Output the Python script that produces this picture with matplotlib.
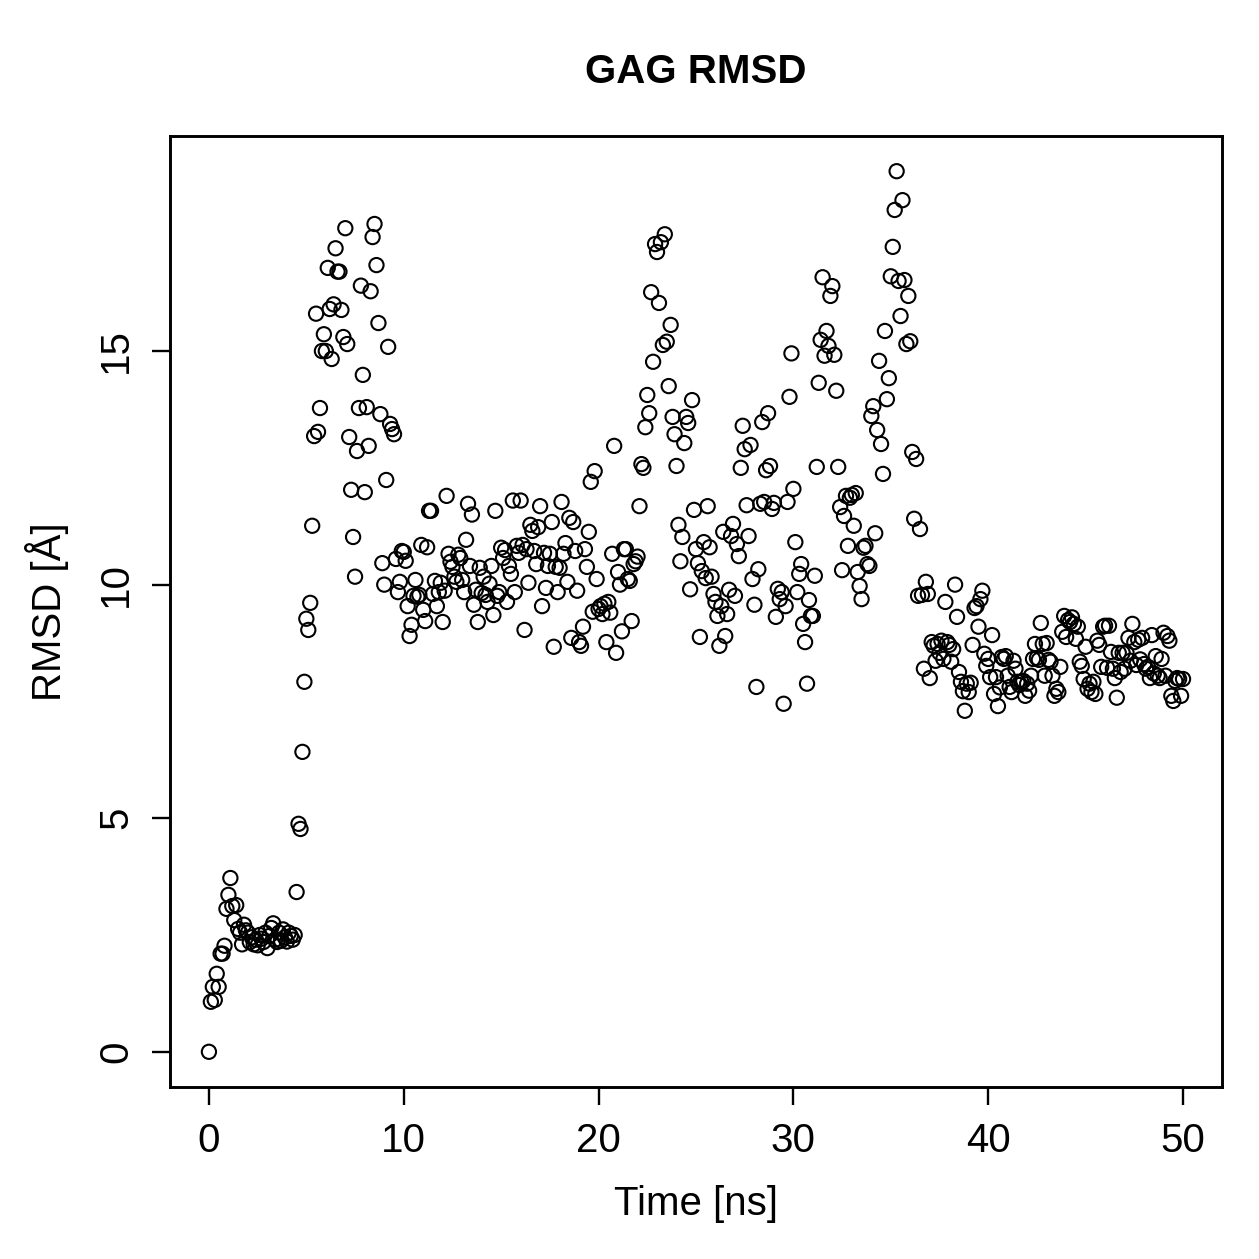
import numpy as np
import matplotlib
matplotlib.use('Agg')
import matplotlib.pyplot as plt

plt.rcParams['font.family'] = ['Liberation Sans', 'DejaVu Sans']

# RMSD per frame, one row per ns (10 frames / ns)
rmsd = [
    0.00, 1.07, 1.39, 1.11, 1.67, 1.39, 2.10, 2.10, 2.27, 3.06,
    3.36, 3.72, 3.12, 2.82, 3.14, 2.63, 2.55, 2.30, 2.72, 2.60,
    2.55, 2.35, 2.45, 2.30, 2.40, 2.28, 2.50, 2.42, 2.35, 2.55,
    2.22, 2.48, 2.65, 2.75, 2.40, 2.35, 2.55, 2.38, 2.62, 2.45,
    2.36, 2.55, 2.48, 2.40, 2.50, 3.42, 4.88, 4.77, 6.42, 7.92,
    9.27, 9.03, 9.61, 11.26, 13.18, 15.80, 13.27, 13.78, 15.00, 15.36,
    15.00, 16.78, 15.90, 14.83, 16.00, 17.20, 16.70, 16.70, 15.88, 15.30,
    17.63, 15.15, 13.16, 12.03, 11.02, 10.17, 12.86, 13.78, 16.40, 14.49,
    11.98, 13.80, 12.97, 16.28, 17.44, 17.72, 16.84, 15.60, 13.65, 10.46,
    10.00, 12.24, 15.09, 13.44, 13.33, 13.22, 10.55, 9.84, 10.06, 10.72,
    10.70, 10.51, 9.54, 8.90, 9.14, 9.76, 10.10, 9.74, 9.78, 10.85,
    9.46, 9.22, 10.80, 11.58, 11.58, 9.80, 10.08, 9.54, 9.84, 10.04,
    9.20, 9.87, 11.90, 10.66, 10.49, 10.38, 10.17, 10.06, 10.64, 10.57,
    10.10, 9.84, 10.96, 11.73, 10.40, 11.50, 9.57, 9.89, 9.20, 10.36,
    9.82, 10.17, 9.78, 9.63, 10.02, 10.40, 9.35, 11.58, 9.76, 9.84,
    10.79, 10.57, 10.74, 9.63, 10.40, 10.23, 11.80, 9.84, 10.83, 10.68,
    11.80, 10.85, 9.03, 10.76, 10.04, 11.28, 11.15, 10.72, 10.44, 11.23,
    11.68, 9.54, 10.68, 9.93, 10.40, 10.66, 11.34, 8.67, 10.38, 9.84,
    10.36, 11.77, 10.66, 10.89, 10.06, 11.43, 8.86, 11.34, 10.72, 9.87,
    8.77, 8.69, 9.10, 10.76, 10.38, 11.13, 12.20, 9.42, 12.43, 10.12,
    9.48, 9.54, 9.37, 9.59, 8.77, 9.63, 9.40, 10.66, 12.97, 8.54,
    10.27, 10.00, 9.00, 10.76, 10.76, 10.12, 10.08, 9.22, 10.44, 10.50,
    10.60, 11.68, 12.58, 12.50, 13.37, 14.06, 13.67, 16.26, 14.77, 17.29,
    17.12, 16.03, 17.33, 15.13, 17.50, 15.20, 14.25, 15.56, 13.59, 13.22,
    12.54, 11.28, 10.50, 11.02, 13.03, 13.59, 13.46, 9.90, 13.95, 11.60,
    10.76, 10.46, 8.88, 10.29, 10.91, 10.14, 11.68, 10.80, 10.17, 9.80,
    9.63, 9.33, 8.69, 9.54, 11.13, 8.90, 9.37, 9.89, 11.04, 11.30,
    9.76, 10.87, 10.61, 12.50, 13.40, 12.90, 11.70, 11.04, 12.99, 10.12,
    9.57, 7.81, 10.33, 11.73, 13.48, 11.77, 12.45, 13.67, 12.54, 11.62,
    11.75, 9.31, 9.91, 9.69, 9.84, 7.45, 9.54, 11.77, 14.02, 14.95,
    12.05, 10.91, 9.84, 10.23, 10.44, 9.16, 8.77, 7.88, 9.67, 9.33,
    9.33, 10.19, 12.52, 14.32, 15.24, 16.58, 14.90, 15.43, 15.11, 16.18,
    16.39, 14.92, 14.15, 12.52, 11.66, 10.31, 11.47, 11.90, 10.83, 11.86,
    11.92, 11.26, 11.96, 10.27, 9.97, 9.69, 10.79, 10.83, 10.44, 10.40,
    13.61, 13.82, 11.10, 13.31, 14.79, 13.01, 12.37, 15.43, 13.97, 14.42,
    16.60, 17.23, 18.02, 18.85, 16.50, 15.75, 18.23, 16.52, 15.15, 16.18,
    15.21, 12.84, 11.41, 12.69, 9.76, 11.19, 9.78, 8.20, 10.06, 9.80,
    8.00, 8.77, 8.69, 8.37, 8.73, 8.54, 8.80, 8.41, 9.63, 8.77,
    8.71, 8.35, 8.62, 10.00, 9.31, 8.13, 7.92, 7.72, 7.30, 7.88,
    7.70, 7.90, 8.71, 9.50, 9.54, 9.10, 9.69, 9.87, 8.52, 8.26,
    8.41, 8.02, 8.92, 7.66, 8.02, 7.40, 7.80, 8.45, 8.41, 8.47,
    8.05, 7.81, 7.70, 8.37, 8.20, 7.92, 7.85, 7.92, 7.94, 7.62,
    7.88, 7.73, 8.05, 8.41, 8.73, 8.43, 8.39, 9.18, 8.73, 8.05,
    8.75, 8.39, 8.35, 8.05, 7.62, 7.77, 7.70, 8.24, 8.99, 9.33,
    8.88, 9.24, 9.20, 9.30, 9.16, 8.84, 9.10, 8.35, 8.26, 7.98,
    8.67, 7.77, 7.88, 7.70, 7.92, 7.66, 8.80, 8.71, 8.24, 9.10,
    9.12, 8.22, 9.12, 8.56, 8.20, 8.00, 7.58, 8.54, 8.13, 8.54,
    8.20, 8.54, 8.86, 8.37, 9.16, 8.77, 8.28, 8.82, 8.40, 8.86,
    8.30, 8.20, 8.24, 8.00, 8.92, 8.10, 8.47, 8.05, 8.00, 8.41,
    8.97, 8.05, 8.90, 8.80, 7.62, 7.51, 7.94, 8.00, 7.98, 7.62,
    7.98,
]
time_ns = np.arange(len(rmsd)) * 0.1

x_ticks = [0, 10, 20, 30, 40, 50]
y_ticks = [0, 5, 10, 15]

fig = plt.figure(figsize=(12.59, 12.59), dpi=100)
ax = fig.add_axes([0.135, 0.1366, 0.8356, 0.7554])

ax.scatter(time_ns, rmsd, s=105, facecolors='none', edgecolors='black', linewidths=1.5)

# R-style 4% padding
xr = time_ns.max() - time_ns.min()
yr = max(rmsd) - min(rmsd)
ax.set_xlim(time_ns.min() - 0.04 * xr, time_ns.max() + 0.04 * xr)
ax.set_ylim(min(rmsd) - 0.04 * yr, max(rmsd) + 0.04 * yr)

ax.set_xticks(x_ticks)
ax.set_yticks(y_ticks)
ax.tick_params(direction='out', length=13, width=1.7, labelsize=29, pad=12)
for lab in ax.get_yticklabels():
    lab.set_rotation(90)
    lab.set_va('center')
for sp in ax.spines.values():
    sp.set_linewidth(2.1)

ax.set_xlabel('Time [ns]', fontsize=29, labelpad=18)
ax.set_ylabel('RMSD [Å]', fontsize=29, labelpad=20)
ax.set_title('GAG RMSD', fontsize=29, fontweight='bold', pad=38)

fig.savefig('out.png', dpi=100)
